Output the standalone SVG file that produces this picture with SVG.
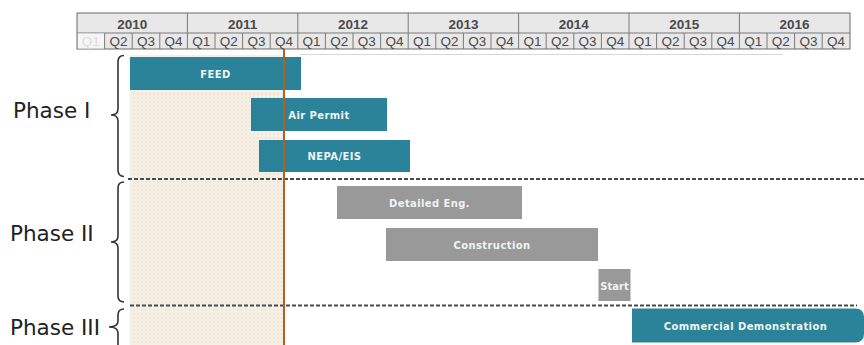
<svg xmlns="http://www.w3.org/2000/svg" width="864" height="345" viewBox="0 0 864 345">
<defs>
<pattern id="dots" width="4" height="4" patternUnits="userSpaceOnUse">
<rect width="4" height="4" fill="#f6efe4"/>
<rect x="1" y="1" width="1.5" height="1.5" fill="#ede2d0"/>
</pattern>
<style>
.hdr{fill:#e8e8e8;stroke:#6a6a6a;stroke-width:1}
.yr{font-family:"Liberation Sans",Arial,sans-serif;font-weight:bold;font-size:13.5px;fill:#4a4a4a;text-anchor:middle}
.qt{font-family:"Liberation Sans",Arial,sans-serif;font-size:13.5px;fill:#4a4a4a;text-anchor:middle}
.sep{stroke:#7a7a7a;stroke-width:1}
.teal{fill:#2a8398}
.gray{fill:#999999}
.lbl{font-family:"DejaVu Sans",Verdana,sans-serif;font-weight:bold;font-size:10px;letter-spacing:0.4px;fill:#eef4f5;text-anchor:middle;dominant-baseline:central}
.phase{font-family:"DejaVu Sans",Verdana,sans-serif;font-size:21.5px;fill:#222}
.brace{fill:none;stroke:#333;stroke-width:1.6}
.dash{stroke:#4a4a4a;stroke-width:2;stroke-dasharray:4 2}
</style>
</defs>
<rect width="864" height="345" fill="#ffffff"/>

<!-- shaded elapsed region -->
<rect id="elapsed" x="130" y="55" width="154" height="290" fill="url(#dots)"/>

<!-- timeline header -->
<g id="header">
<line x1="300" y1="54.5" x2="783" y2="54.5" stroke="#d6d6d6" stroke-width="1"/>
<rect class="hdr" x="77" y="13" width="773" height="36" stroke-width="1.6"/>
<line class="sep" x1="77" y1="33" x2="850" y2="33"/>
<rect x="78" y="33.5" width="27" height="15" fill="#f6f6f6"/>
<g class="sep">
<line x1="187.4" y1="13" x2="187.4" y2="49"/>
<line x1="297.8" y1="13" x2="297.8" y2="49"/>
<line x1="408.2" y1="13" x2="408.2" y2="49"/>
<line x1="518.6" y1="13" x2="518.6" y2="49"/>
<line x1="629" y1="13" x2="629" y2="49"/>
<line x1="739.4" y1="13" x2="739.4" y2="49"/>
<line x1="104.6" y1="33" x2="104.6" y2="49"/>
<line x1="132.2" y1="33" x2="132.2" y2="49"/>
<line x1="159.8" y1="33" x2="159.8" y2="49"/>
<line x1="215" y1="33" x2="215" y2="49"/>
<line x1="242.6" y1="33" x2="242.6" y2="49"/>
<line x1="270.2" y1="33" x2="270.2" y2="49"/>
<line x1="325.4" y1="33" x2="325.4" y2="49"/>
<line x1="353" y1="33" x2="353" y2="49"/>
<line x1="380.6" y1="33" x2="380.6" y2="49"/>
<line x1="435.8" y1="33" x2="435.8" y2="49"/>
<line x1="463.4" y1="33" x2="463.4" y2="49"/>
<line x1="491" y1="33" x2="491" y2="49"/>
<line x1="546.2" y1="33" x2="546.2" y2="49"/>
<line x1="573.8" y1="33" x2="573.8" y2="49"/>
<line x1="601.4" y1="33" x2="601.4" y2="49"/>
<line x1="656.6" y1="33" x2="656.6" y2="49"/>
<line x1="684.2" y1="33" x2="684.2" y2="49"/>
<line x1="711.8" y1="33" x2="711.8" y2="49"/>
<line x1="767" y1="33" x2="767" y2="49"/>
<line x1="794.6" y1="33" x2="794.6" y2="49"/>
<line x1="822.2" y1="33" x2="822.2" y2="49"/>
</g>
<text class="yr" x="132.2" y="28.5">2010</text>
<text class="yr" x="242.6" y="28.5">2011</text>
<text class="yr" x="353" y="28.5">2012</text>
<text class="yr" x="463.4" y="28.5">2013</text>
<text class="yr" x="573.8" y="28.5">2014</text>
<text class="yr" x="684.2" y="28.5">2015</text>
<text class="yr" x="794.6" y="28.5">2016</text>
<text class="qt" x="90.8" y="45.8" style="fill:#dcdcdc">Q1</text>
<text class="qt" x="118.4" y="45.8">Q2</text>
<text class="qt" x="146" y="45.8">Q3</text>
<text class="qt" x="173.6" y="45.8">Q4</text>
<text class="qt" x="201.2" y="45.8">Q1</text>
<text class="qt" x="228.8" y="45.8">Q2</text>
<text class="qt" x="256.4" y="45.8">Q3</text>
<text class="qt" x="284" y="45.8">Q4</text>
<text class="qt" x="311.6" y="45.8">Q1</text>
<text class="qt" x="339.2" y="45.8">Q2</text>
<text class="qt" x="366.8" y="45.8">Q3</text>
<text class="qt" x="394.4" y="45.8">Q4</text>
<text class="qt" x="422" y="45.8">Q1</text>
<text class="qt" x="449.6" y="45.8">Q2</text>
<text class="qt" x="477.2" y="45.8">Q3</text>
<text class="qt" x="504.8" y="45.8">Q4</text>
<text class="qt" x="532.4" y="45.8">Q1</text>
<text class="qt" x="560" y="45.8">Q2</text>
<text class="qt" x="587.6" y="45.8">Q3</text>
<text class="qt" x="615.2" y="45.8">Q4</text>
<text class="qt" x="642.8" y="45.8">Q1</text>
<text class="qt" x="670.4" y="45.8">Q2</text>
<text class="qt" x="698" y="45.8">Q3</text>
<text class="qt" x="725.6" y="45.8">Q4</text>
<text class="qt" x="753.2" y="45.8">Q1</text>
<text class="qt" x="780.8" y="45.8">Q2</text>
<text class="qt" x="808.4" y="45.8">Q3</text>
<text class="qt" x="836" y="45.8">Q4</text>
</g>

<!-- phase labels and braces -->
<g id="phase1">
<text class="phase" x="13" y="118">Phase I</text>
<path class="brace" d="M124,55.5 Q118,55.5 118,62 L118,109 Q118,115 111,115 Q118,115 118,121 L118,170 Q118,176.5 124,176.5"/>
</g>
<g id="phase2">
<text class="phase" x="10" y="241">Phase II</text>
<path class="brace" d="M124,182 Q118,182 118,188 L118,236 Q118,242 111,242 Q118,242 118,248 L118,296 Q118,302 124,302"/>
</g>
<g id="phase3">
<text class="phase" x="10" y="335">Phase III</text>
<path class="brace" d="M124,309 Q118,309 118,315 L118,321 Q118,327 109,327 Q118,327 118,333 L118,346"/>
</g>

<!-- phase separators -->
<g id="connectors">
<line class="dash" x1="128" y1="179" x2="864" y2="179"/>
<line class="dash" x1="130" y1="305.5" x2="857" y2="305.5"/>
</g>

<!-- task bars -->
<g id="feed">
<rect class="teal" x="130" y="57" width="171" height="33"/>
<text class="lbl" x="215.5" y="74">FEED</text>
</g>
<g id="air-permit">
<rect class="teal" x="251" y="98" width="136" height="33"/>
<text class="lbl" x="319" y="115">Air Permit</text>
</g>
<g id="nepa-eis">
<rect class="teal" x="259" y="140" width="151" height="32"/>
<text class="lbl" x="334.5" y="156.5">NEPA/EIS</text>
</g>
<g id="detailed-eng">
<rect class="gray" x="337" y="186" width="185" height="33"/>
<text class="lbl" x="429.5" y="203">Detailed Eng.</text>
</g>
<g id="construction">
<rect class="gray" x="386" y="228" width="212" height="33"/>
<text class="lbl" x="492" y="245">Construction</text>
</g>
<g id="start">
<rect class="gray" x="598.5" y="269" width="32" height="32"/>
<text class="lbl" x="614.5" y="286" style="letter-spacing:0">Start</text>
</g>
<g id="commercial-demo">
<path class="teal" d="M632,308.5 L855,308.5 Q864,308.5 864,317 L864,334 Q864,342.5 855,342.5 L632,342.5 Z"/>
<text class="lbl" x="745.5" y="326.5">Commercial Demonstration</text>
</g>

<!-- current date marker -->
<line id="today" x1="284" y1="49" x2="284" y2="345" stroke="#b45f1e" stroke-width="2"/>
</svg>
